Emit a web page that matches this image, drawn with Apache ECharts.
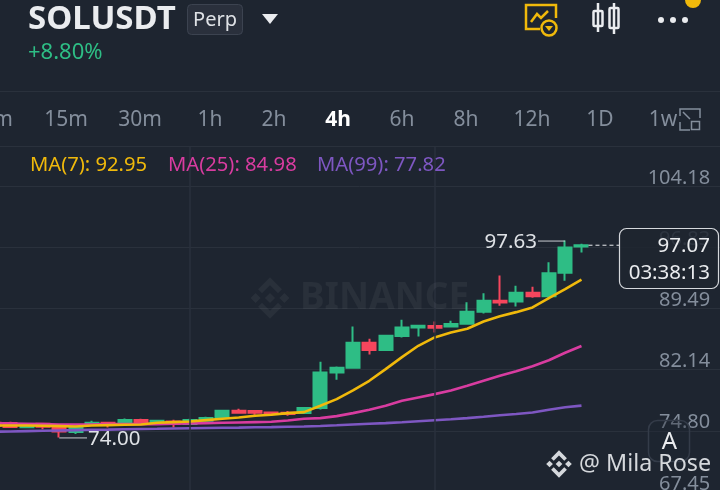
<!DOCTYPE html>
<html><head><meta charset="utf-8">
<style>html,body{margin:0;padding:0;background:#1e2530}#c{width:720px;height:490px}</style>
<script src="https://cdn.jsdelivr.net/npm/echarts@6/dist/echarts.min.js"></script>
</head><body><div id="c"></div>
<script>
const tickValues = [67.45, 74.80, 82.14, 89.49, 96.83, 104.18];
const timeframes = ['m', '15m', '30m', '1h', '2h', '4h', '6h', '8h', '12h', '1D', '1w'];
// [open, close, low, high]
const candles = [
[75.76,75.40,75.28,75.88],[75.72,75.24,75.16,75.88],[75.22,75.58,75.10,75.64],[75.64,75.28,74.98,75.76],
[75.24,74.72,74.00,75.52],[74.64,75.24,74.40,75.40],[75.56,75.76,75.52,76.00],[75.76,75.48,75.20,75.88],
[75.64,76.08,75.40,76.28],[76.08,75.76,75.48,76.24],[75.72,76.00,75.64,76.12],[75.92,75.60,75.20,76.12],
[75.60,76.08,75.52,76.24],[76.00,76.32,75.88,76.48],[76.32,77.20,76.30,77.32],[77.20,76.96,76.84,77.44],
[77.16,76.96,76.72,77.22],[77.00,76.84,76.64,77.08],[76.96,76.80,76.60,77.16],[76.92,77.52,76.86,77.64],
[77.52,81.80,77.36,83.08],[81.80,82.36,80.92,82.52],[82.36,85.36,82.24,87.32],[85.36,84.48,83.96,85.84],
[84.48,86.20,84.40,86.24],[86.16,87.20,86.00,88.12],[87.20,87.40,86.12,87.44],[87.36,87.16,86.60,87.92],
[87.32,87.60,87.20,88.00],[87.64,89.08,87.56,90.22],[89.08,90.40,88.88,91.32],[90.40,90.20,89.80,93.44],
[90.32,91.36,89.72,92.20],[91.36,90.96,90.76,92.08],[90.96,93.72,90.60,95.04],[93.76,96.80,92.80,97.63],
[96.92,97.07,96.20,97.24]];
const ma7 = [75.44,75.44,75.44,75.40,75.36,75.32,75.44,75.48,75.52,75.56,75.76,75.84,75.92,76.08,76.24,76.40,76.60,76.72,76.92,77.04,77.80,78.60,79.64,80.80,82.20,83.64,85.00,86.00,86.60,87.04,87.92,88.54,89.04,89.60,90.72,91.80,92.95];
const ma25 = [75.72,75.68,75.64,75.60,75.56,75.56,75.56,75.60,75.60,75.60,75.60,75.64,75.68,75.72,75.76,75.80,75.84,75.88,76.04,76.24,76.32,76.56,76.92,77.32,77.80,78.40,78.80,79.20,79.64,80.20,80.80,81.40,81.94,82.54,83.26,84.16,84.98];
const ma99 = [74.68,74.72,74.76,74.80,74.84,74.88,74.92,74.94,74.98,75.02,75.04,75.08,75.11,75.14,75.16,75.18,75.22,75.24,75.28,75.32,75.38,75.46,75.56,75.64,75.72,75.83,75.95,76.07,76.18,76.32,76.48,76.66,76.82,77.00,77.32,77.62,77.82];
const blankBars = 8;
const categories = candles.concat(new Array(blankBars).fill(0)).map((_, i) => String(i));
const crosshairBars = ['12', '27'];
const lastPrice = 97.07, highPrice = 97.63, lowPrice = 74.00, highIdx = 35, lowIdx = 4;

const BG = '#1e2530', FONT = '"Noto Sans", "Open Sans", sans-serif';
const chart = echarts.init(document.getElementById('c'), null, {renderer: 'canvas'});
chart.setOption({
  animation: false,
  backgroundColor: BG,
  grid: {left: -14.2, top: 146, width: 734.4, height: 346, outerBoundsMode: 'none', containLabel: false},
  xAxis: {type: 'category', data: categories, boundaryGap: true, show: false},
  yAxis: {
    type: 'value', position: 'right', min: 67.45, max: 108.98, scale: true,
    axisLine: {show: false},
    axisTick: {show: false, customValues: tickValues},
    splitLine: {show: true, lineStyle: {color: '#2a313c', width: 1}},
    axisLabel: {
      inside: true, customValues: tickValues, color: '#848e9c', fontSize: 20, fontFamily: FONT,
      margin: 10, verticalAlign: 'bottom', lineHeight: 16,
      formatter: v => v.toFixed(2)
    }
  },
  series: [
    {type: 'candlestick', data: candles, barWidth: 13.5,
     itemStyle: {color: '#2ebd85', color0: '#f6465d', borderColor: '#2ebd85', borderColor0: '#f6465d', borderWidth: 2},
     markLine: {silent: true, symbol: 'none', label: {show: false},
       lineStyle: {color: '#2a313c', width: 1.5, type: 'solid'},
       data: crosshairBars.map(c => ({xAxis: c}))}},
    {type: 'line', data: ma99, showSymbol: false, lineStyle: {color: '#7e57c2', width: 2.6}},
    {type: 'line', data: ma25, showSymbol: false, lineStyle: {color: '#d83ca0', width: 2.6}},
    {type: 'line', data: ma7, showSymbol: false, lineStyle: {color: '#f0b90b', width: 2.6}}
  ]
});

const px = (i, v) => chart.convertToPixel({gridIndex: 0}, [String(i), v]);
function text(x, y, s, o) {
  return {type: 'text', x, y, silent: true, z: o.z || 50, style: {text: s, fill: o.c, font: (o.w || 'normal') + ' ' + o.s + 'px ' + FONT, textAlign: o.a || 'left', textVerticalAlign: 'middle', opacity: o.o == null ? 1 : o.o}};
}
function line(x1, y1, x2, y2, c, w, dash) {
  return {type: 'line', silent: true, z: 49, shape: {x1, y1, x2, y2}, style: {stroke: c, lineWidth: w || 1, lineDash: dash || null}};
}
function rect(x, y, w, h, r, fill, stroke, lw, z) {
  return {type: 'rect', silent: true, z: z || 48, shape: {x, y, width: w, height: h, r}, style: {fill: fill || 'none', stroke: stroke || 'none', lineWidth: lw || 1}};
}
function poly(points, fill, z) {
  return {type: 'polygon', silent: true, z: z || 48, shape: {points}, style: {fill}};
}
function diamond(cx, cy, r, fill, z) {
  return poly([[cx, cy - r], [cx + r, cy], [cx, cy + r], [cx - r, cy]], fill, z);
}
function logo(cx, cy, k, fill, z) {
  const e = [];
  e.push(diamond(cx, cy, 3.2 * k, fill, z));
  e.push(diamond(cx - 9 * k, cy, 3.2 * k, fill, z));
  e.push(diamond(cx + 9 * k, cy, 3.2 * k, fill, z));
  e.push(poly([[cx, cy - 13 * k], [cx + 7.5 * k, cy - 5.5 * k], [cx + 5 * k, cy - 3 * k], [cx, cy - 8 * k], [cx - 5 * k, cy - 3 * k], [cx - 7.5 * k, cy - 5.5 * k]], fill, z));
  e.push(poly([[cx, cy + 13 * k], [cx + 7.5 * k, cy + 5.5 * k], [cx + 5 * k, cy + 3 * k], [cx, cy + 8 * k], [cx - 5 * k, cy + 3 * k], [cx - 7.5 * k, cy + 5.5 * k]], fill, z));
  return e;
}

const pLast = px(36, lastPrice), pHigh = px(highIdx, highPrice), pLow = px(lowIdx, lowPrice);
const tfX = [3, 66, 140, 210, 274, 338, 402, 466, 532, 600, 663];
const g = [];
// header
g.push(text(28, 20, 'SOLUSDT', {c: '#eaecef', s: 33, w: 'bold'}));
g.push(rect(187.5, 4.5, 55, 30, 4, '#2a303c', '#3c4350', 1));
g.push(text(215, 20, 'Perp', {c: '#dfe2e6', s: 20, a: 'center'}));
g.push(poly([[262, 14], [278, 14], [270, 24]], '#eaecef'));
g.push(text(28, 53, '+8.80%', {c: '#2ebd85', s: 22}));
// yellow icon
g.push({type: 'polyline', silent: true, z: 48, shape: {points: [[540, 29], [526, 29], [526, 5], [556, 5], [556, 18]]}, style: {stroke: '#f0b90b', lineWidth: 2.5, fill: 'none'}});
g.push({type: 'polyline', silent: true, z: 48, shape: {points: [[531, 22], [537, 14], [541, 18], [548, 11]]}, style: {stroke: '#f0b90b', lineWidth: 2.5, fill: 'none'}});
g.push({type: 'circle', silent: true, z: 48, shape: {cx: 549, cy: 28, r: 7.5}, style: {fill: BG, stroke: '#f0b90b', lineWidth: 2.5}});
g.push(poly([[545, 26], [553, 26], [549, 31]], '#f0b90b'));
// candle icon
g.push(line(598, 3, 598, 32, '#eaecef', 2.5)); g.push(line(614, 3, 614, 34, '#eaecef', 2.5));
g.push(rect(593.5, 11, 9, 15, 1, BG, '#eaecef', 2.5)); g.push(rect(609.5, 8, 9, 20, 1, BG, '#eaecef', 2.5));
// dots
[661, 673, 685].forEach(cx => g.push({type: 'circle', silent: true, z: 48, shape: {cx, cy: 20, r: 3}, style: {fill: '#eaecef'}}));
g.push({type: 'circle', silent: true, z: 48, shape: {cx: 693, cy: 0, r: 8}, style: {fill: '#f0b90b'}});
// separators
g.push(line(0, 91.5, 720, 91.5, '#2a313c', 1)); g.push(line(0, 146.5, 720, 146.5, '#2a313c', 1));
// timeframes
timeframes.forEach((t, i) => g.push(text(tfX[i], 120, t, {c: t === '4h' ? '#ffffff' : '#848e9c', s: 21, w: t === '4h' ? 'bold' : 'normal', a: 'center'})));
// collapse icon
g.push({type: 'polyline', silent: true, z: 48, shape: {points: [[680, 122], [680, 130], [690, 130]]}, style: {stroke: '#848e9c', lineWidth: 1.5, fill: 'none'}});
g.push({type: 'polyline', silent: true, z: 48, shape: {points: [[680, 116], [680, 109], [700, 109], [700, 118]]}, style: {stroke: '#848e9c', lineWidth: 1.5, fill: 'none'}});
g.push(rect(691.5, 121.5, 8, 8, 0, 'none', '#848e9c', 1.5));
g.push(line(683, 112, 690, 119, '#848e9c', 1.5));
// MA legend
g.push(text(30, 165, 'MA(7): 92.95', {c: '#f0b90b', s: 20.2}));
g.push(text(168, 165, 'MA(25): 84.98', {c: '#d83ca0', s: 20.2}));
g.push(text(317, 165, 'MA(99): 77.82', {c: '#7e57c2', s: 20.2}));
// watermark
logo(270, 298, 1.6, 'rgba(255,255,255,0.05)', 5).forEach(e => g.push(e));
g.push(text(300, 298, 'BINANCE', {c: 'rgba(255,255,255,0.05)', s: 37, w: 'bold', z: 5}));
// high / low leaders
g.push(line(538, pHigh[1] + .5, pHigh[0], pHigh[1] + .5, '#c9ccd1', 1));
g.push(text(537, pHigh[1] + 1.5, highPrice.toFixed(2), {c: '#dfe2e6', s: 20.5, a: 'right'}));
g.push(line(pLow[0], pLow[1] + .5, 87, pLow[1] + .5, '#c9ccd1', 1));
g.push(text(88, pLow[1] + 1.5, lowPrice.toFixed(2), {c: '#dfe2e6', s: 20.5}));
// last price
g.push(line(pLast[0] + 7, pLast[1], 620, pLast[1], '#eaecef', 1, [4, 3]));
g.push(rect(619.5, 228.5, 99, 60, 7, 'rgba(30,37,48,0.86)', '#d5d8dc', 1.2, 60));
g.push(text(710, 246.5, lastPrice.toFixed(2), {c: '#eaecef', s: 20.5, a: 'right', z: 61}));
g.push(text(710, 273.5, '03:38:13', {c: '#eaecef', s: 20.5, a: 'right', z: 61}));
// A button
g.push(rect(648.5, 420.5, 41, 41, 9, 'rgba(30,37,48,0.35)', '#343c49', 1.5, 60));
g.push(text(669.5, 442, 'A', {c: '#eaecef', s: 24, a: 'center', z: 61}));
// credit
logo(559, 464, 1.05, '#d5d8dc', 62).forEach(e => g.push(e));
g.push(text(579, 464, '@ Mila Rose', {c: '#d5d8dc', s: 23.3, z: 62}));
chart.setOption({graphic: {elements: g}});
</script></body></html>
